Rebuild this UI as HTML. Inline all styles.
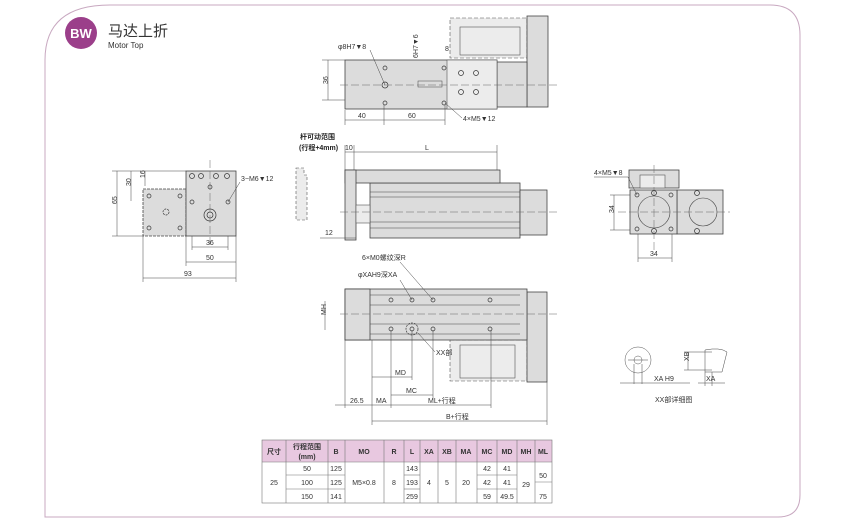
<!DOCTYPE html>
<html><head><meta charset="utf-8"><style>
html,body{margin:0;padding:0;background:#fff;}
svg{display:block;font-family:"Liberation Sans","Noto Sans CJK SC",sans-serif;}
.p{fill:#dcdcdc;stroke:#444;stroke-width:0.8}
.l{fill:#ececec;stroke:#555;stroke-width:0.6}
.d{stroke:#444;stroke-width:0.5;fill:none}
.c{stroke:#666;stroke-width:0.5;stroke-dasharray:8 3;fill:none}
.t{font-size:7px;fill:#333}
.tb{font-size:7px;fill:#222}
</style></head><body>
<svg width="841" height="527" viewBox="0 0 841 527" xmlns="http://www.w3.org/2000/svg">
<path d="M45 517 L45 60 Q45 5 110 5 L770 5 Q800 5 800 35 L800 495 Q800 517 778 517 Z" fill="none" stroke="#c8a8c0" stroke-width="1"/>
<circle cx="81" cy="33" r="16" fill="#9b3f8a"/>
<text x="81" y="38" font-size="13" font-weight="bold" fill="#fff" text-anchor="middle">BW</text>
<text x="108" y="36" font-size="15" fill="#333">马达上折</text>
<text x="108" y="48" font-size="8" fill="#333">Motor Top</text>

<!-- TOP VIEW -->
<rect class="l" x="450" y="18" width="77" height="40" stroke-dasharray="4 2"/>
<rect class="l" x="460" y="27" width="60" height="28"/>
<rect class="p" x="527" y="16" width="21" height="91"/>
<rect class="p" x="497" y="62" width="30" height="45"/>
<rect class="p" x="345" y="60" width="152" height="49"/>
<rect class="l" x="447" y="60" width="50" height="49"/>
<g fill="none" stroke="#333" stroke-width="0.7">
<circle cx="461" cy="73" r="2.5"/><circle cx="476" cy="73" r="2.5"/><circle cx="461" cy="92" r="2.5"/><circle cx="476" cy="92" r="2.5"/>
<circle cx="385" cy="68" r="2"/><circle cx="385" cy="85" r="3"/><circle cx="385" cy="103" r="2"/>
<circle cx="444" cy="68" r="2"/><circle cx="444" cy="103" r="2"/></g>
<rect x="418" y="81" width="24" height="6" fill="none" stroke="#444" stroke-width="0.5"/>
<line class="c" x1="340" y1="85" x2="558" y2="85"/>
<line class="d" x1="328" y1="60" x2="328" y2="100"/><line class="d" x1="322" y1="60" x2="345" y2="60"/><line class="d" x1="322" y1="100" x2="345" y2="100"/>
<text class="t" x="325" y="87" transform="rotate(-90 325 84)">36</text>
<line class="d" x1="345" y1="120" x2="445" y2="120"/><line class="d" x1="345" y1="110" x2="345" y2="125"/><line class="d" x1="384" y1="105" x2="384" y2="125"/><line class="d" x1="445" y1="105" x2="445" y2="125"/>
<text class="t" x="358" y="118">40</text><text class="t" x="408" y="118">60</text>
<text class="t" x="463" y="121">4×M5▼12</text><line class="d" x1="462" y1="118" x2="445" y2="103"/>
<text class="t" x="338" y="49">φ8H7▼8</text><line class="d" x1="370" y1="50" x2="385" y2="85"/>
<text class="t" x="418" y="58" transform="rotate(-90 418 58)">6H7▼6</text>
<text class="t" x="445" y="51">8</text>

<!-- SIDE VIEW -->
<text class="tb" x="300" y="139" font-weight="bold">杆可动范围</text>
<text class="tb" x="299" y="150" font-weight="bold">(行程+4mm)</text>
<path d="M296 168 L304 168 L304 175 L307 175 L307 220 L296 220 Z" class="l" stroke-dasharray="3 2"/>
<line class="d" x1="345" y1="152" x2="497" y2="152"/><line class="d" x1="345" y1="145" x2="345" y2="170"/><line class="d" x1="354" y1="145" x2="354" y2="170"/><line class="d" x1="497" y1="145" x2="497" y2="170"/>
<text class="t" x="345" y="150">10</text><text class="t" x="425" y="150">L</text>
<rect class="p" x="370" y="183" width="150" height="55"/>
<g class="d"><line x1="370" y1="192" x2="520" y2="192"/><line x1="370" y1="197" x2="520" y2="197"/><line x1="370" y1="222" x2="520" y2="222"/><line x1="370" y1="228" x2="520" y2="228"/></g>
<rect class="p" x="520" y="190" width="27" height="45"/>
<rect class="p" x="345" y="170" width="155" height="13"/>
<rect class="p" x="345" y="170" width="11" height="70"/>
<rect class="l" x="356" y="205" width="14" height="18"/>
<line class="c" x1="340" y1="212" x2="560" y2="212"/>
<line class="d" x1="320" y1="238" x2="356" y2="238"/><text class="t" x="325" y="235">12</text>

<!-- BOTTOM VIEW -->
<rect class="l" x="450" y="340" width="77" height="41" stroke-dasharray="4 2"/>
<rect class="l" x="460" y="345" width="55" height="33"/>
<rect class="p" x="527" y="292" width="20" height="90"/>
<rect class="p" x="345" y="289" width="182" height="51"/>
<rect class="p" x="345" y="289" width="25" height="51"/>
<g class="d"><line x1="370" y1="295" x2="520" y2="295"/><line x1="370" y1="305" x2="520" y2="305"/><line x1="370" y1="324" x2="520" y2="324"/><line x1="370" y1="334" x2="520" y2="334"/></g>
<g fill="none" stroke="#333" stroke-width="0.7">
<circle cx="391" cy="300" r="2"/><circle cx="412" cy="300" r="2"/><circle cx="433" cy="300" r="2"/><circle cx="490" cy="300" r="2"/>
<circle cx="391" cy="329" r="2"/><circle cx="412" cy="329" r="2"/><circle cx="433" cy="329" r="2"/><circle cx="490" cy="329" r="2"/>
<circle cx="412" cy="329" r="6" stroke-dasharray="2 1"/></g>
<line class="c" x1="340" y1="314" x2="558" y2="314"/>
<text class="t" x="362" y="260">6×M0螺纹深R</text><line class="d" x1="400" y1="262" x2="433" y2="300"/>
<text class="t" x="358" y="277">φXAH9深XA</text><line class="d" x1="400" y1="280" x2="412" y2="300"/>
<text class="t" x="436" y="355">XX部</text><line class="d" x1="435" y1="352" x2="418" y2="333"/>
<line class="d" x1="325" y1="301" x2="325" y2="330"/><text class="t" x="322" y="319" transform="rotate(-90 322 315)">MH</text>
<g class="d">
<line x1="345" y1="340" x2="345" y2="408"/><line x1="372" y1="340" x2="372" y2="425"/><line x1="391" y1="330" x2="391" y2="408"/><line x1="412" y1="330" x2="412" y2="380"/><line x1="433" y1="330" x2="433" y2="398"/><line x1="491" y1="330" x2="491" y2="408"/><line x1="547" y1="382" x2="547" y2="425"/>
<line x1="372" y1="377" x2="412" y2="377"/><line x1="391" y1="395" x2="433" y2="395"/><line x1="335" y1="405" x2="491" y2="405"/><line x1="372" y1="421" x2="547" y2="421"/></g>
<text class="t" x="395" y="375">MD</text><text class="t" x="406" y="393">MC</text>
<text class="t" x="350" y="403">26.5</text><text class="t" x="376" y="403">MA</text><text class="t" x="428" y="403">ML+行程</text><text class="t" x="446" y="419">B+行程</text>

<!-- LEFT VIEW -->
<rect class="p" x="143" y="189" width="43" height="47" stroke-dasharray="3 1"/>
<rect class="p" x="186" y="171" width="50" height="65"/>
<g fill="none" stroke="#333" stroke-width="0.7">
<circle cx="192" cy="176" r="2.5"/><circle cx="201" cy="176" r="2.5"/><circle cx="216" cy="176" r="2.5"/><circle cx="227" cy="176" r="2.5"/>
<circle cx="210" cy="215" r="6"/><circle cx="210" cy="215" r="3"/><circle cx="210" cy="187" r="2"/><circle cx="192" cy="202" r="2"/><circle cx="228" cy="202" r="2"/>
<circle cx="149" cy="196" r="2"/><circle cx="180" cy="196" r="2"/><circle cx="149" cy="228" r="2"/><circle cx="180" cy="228" r="2"/><circle cx="166" cy="212" r="3" stroke-dasharray="2 1"/></g>
<line class="c" x1="210" y1="160" x2="210" y2="245"/>
<g class="d"><line x1="117" y1="171" x2="117" y2="236"/><line x1="131" y1="171" x2="131" y2="201"/><line x1="145" y1="171" x2="145" y2="186"/><line x1="112" y1="171" x2="186" y2="171"/><line x1="112" y1="236" x2="143" y2="236"/>
<line x1="192" y1="247" x2="228" y2="247"/><line x1="186" y1="262" x2="236" y2="262"/><line x1="143" y1="278" x2="236" y2="278"/><line x1="143" y1="236" x2="143" y2="282"/><line x1="236" y1="236" x2="236" y2="282"/><line x1="186" y1="236" x2="186" y2="266"/><line x1="192" y1="236" x2="192" y2="250"/><line x1="228" y1="236" x2="228" y2="250"/>
<line x1="240" y1="182" x2="228" y2="202"/></g>
<text class="t" x="114" y="207" transform="rotate(-90 114 204)">65</text><text class="t" x="128" y="189" transform="rotate(-90 128 186)">30</text><text class="t" x="142" y="181" transform="rotate(-90 142 178)">16</text>
<text class="t" x="206" y="245">36</text><text class="t" x="206" y="260">50</text><text class="t" x="184" y="276">93</text>
<text class="t" x="241" y="181">3−M6▼12</text>

<!-- RIGHT VIEW -->
<rect class="p" x="629" y="170" width="50" height="18"/>
<rect class="l" x="640" y="175" width="25" height="13"/>
<rect class="p" x="677" y="190" width="46" height="44"/>
<rect class="p" x="630" y="190" width="47" height="44"/>
<circle cx="654" cy="212" r="16" fill="none" stroke="#444" stroke-width="0.6"/>
<circle cx="703" cy="212" r="14" fill="none" stroke="#444" stroke-width="0.6"/>
<g fill="none" stroke="#333" stroke-width="0.7"><circle cx="637" cy="195" r="2"/><circle cx="671" cy="195" r="2"/><circle cx="637" cy="229" r="2"/><circle cx="671" cy="229" r="2"/><circle cx="654" cy="193" r="2.5"/><circle cx="654" cy="231" r="2.5"/><circle cx="697" cy="193" r="2.5"/><circle cx="697" cy="231" r="2.5"/></g>
<line class="c" x1="618" y1="212" x2="730" y2="212"/><line class="c" x1="654" y1="165" x2="654" y2="250"/>
<g class="d"><line x1="614" y1="195" x2="614" y2="230"/><line x1="610" y1="195" x2="630" y2="195"/><line x1="610" y1="230" x2="630" y2="230"/><line x1="638" y1="258" x2="672" y2="258"/><line x1="638" y1="234" x2="638" y2="262"/><line x1="672" y1="234" x2="672" y2="262"/><line x1="594" y1="177" x2="628" y2="177"/><line x1="628" y1="177" x2="637" y2="195"/></g>
<text class="t" x="611" y="216" transform="rotate(-90 611 213)">34</text><text class="t" x="650" y="256">34</text>
<text class="t" x="594" y="175">4×M5▼8</text>

<!-- DETAIL -->
<circle cx="638" cy="360" r="13" fill="none" stroke="#555" stroke-width="0.5"/>
<circle cx="638" cy="360" r="4" fill="none" stroke="#555" stroke-width="0.5"/>
<g class="d"><line x1="634" y1="364" x2="634" y2="384"/><line x1="642" y1="364" x2="642" y2="384"/><line x1="620" y1="383" x2="690" y2="383"/><line x1="628" y1="360" x2="648" y2="360"/>
<path d="M705 350 Q720 347 727 352 L722 372 L705 372 Z"/><line x1="688" y1="352" x2="688" y2="370"/><line x1="684" y1="352" x2="712" y2="352"/><line x1="684" y1="370" x2="712" y2="370"/><line x1="698" y1="383" x2="725" y2="383"/><line x1="705" y1="372" x2="705" y2="386"/><line x1="712" y1="372" x2="712" y2="386"/></g>
<text class="t" x="654" y="381">XA  H9</text><text class="t" x="686" y="364" transform="rotate(-90 686 361)">XB</text><text class="t" x="706" y="381">XA</text>
<text class="t" x="655" y="402">XX部详细图</text>

<!-- TABLE -->
<rect x="262" y="440" width="290" height="22" fill="#e8c8e0"/>
<g stroke="#777" stroke-width="0.6" fill="none">
<rect x="262" y="440" width="290" height="63"/>
<line x1="262" y1="462" x2="552" y2="462"/>
<line x1="286" y1="475" x2="345" y2="475"/><line x1="286" y1="489" x2="345" y2="489"/>
<line x1="404" y1="475" x2="420" y2="475"/><line x1="404" y1="489" x2="420" y2="489"/>
<line x1="477" y1="475" x2="517" y2="475"/><line x1="477" y1="489" x2="517" y2="489"/>
<line x1="535" y1="482" x2="552" y2="482"/>
<line x1="286" y1="440" x2="286" y2="503"/><line x1="328" y1="440" x2="328" y2="503"/><line x1="345" y1="440" x2="345" y2="503"/><line x1="384" y1="440" x2="384" y2="503"/><line x1="404" y1="440" x2="404" y2="503"/><line x1="420" y1="440" x2="420" y2="503"/><line x1="438" y1="440" x2="438" y2="503"/><line x1="456" y1="440" x2="456" y2="503"/><line x1="477" y1="440" x2="477" y2="503"/><line x1="497" y1="440" x2="497" y2="503"/><line x1="517" y1="440" x2="517" y2="503"/><line x1="535" y1="440" x2="535" y2="503"/>
</g>
<g font-size="7" fill="#333" text-anchor="middle">
<text x="274" y="454" font-weight="bold">尺寸</text><text x="307" y="449" font-weight="bold">行程范围</text><text x="307" y="459" font-weight="bold">(mm)</text>
<text x="336" y="454" font-weight="bold">B</text><text x="364" y="454" font-weight="bold">MO</text><text x="394" y="454" font-weight="bold">R</text><text x="412" y="454" font-weight="bold">L</text><text x="429" y="454" font-weight="bold">XA</text><text x="447" y="454" font-weight="bold">XB</text><text x="466" y="454" font-weight="bold">MA</text><text x="487" y="454" font-weight="bold">MC</text><text x="507" y="454" font-weight="bold">MD</text><text x="526" y="454" font-weight="bold">MH</text><text x="543" y="454" font-weight="bold">ML</text>
<text x="274" y="485">25</text>
<text x="307" y="471">50</text><text x="307" y="485">100</text><text x="307" y="499">150</text>
<text x="336" y="471">125</text><text x="336" y="485">125</text><text x="336" y="499">141</text>
<text x="364" y="485">M5×0.8</text><text x="394" y="485">8</text>
<text x="412" y="471">143</text><text x="412" y="485">193</text><text x="412" y="499">259</text>
<text x="429" y="485">4</text><text x="447" y="485">5</text><text x="466" y="485">20</text>
<text x="487" y="471">42</text><text x="487" y="485">42</text><text x="487" y="499">59</text>
<text x="507" y="471">41</text><text x="507" y="485">41</text><text x="507" y="499">49.5</text>
<text x="526" y="487">29</text><text x="543" y="478">50</text><text x="543" y="499">75</text>
</g>
</svg>
</body></html>
